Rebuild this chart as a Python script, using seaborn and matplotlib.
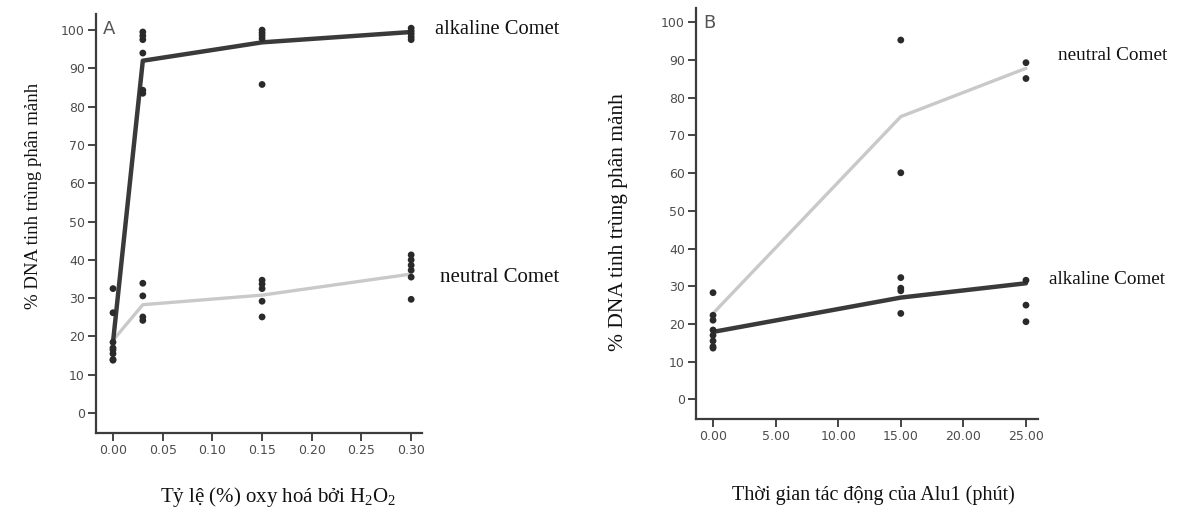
import numpy as np
import pandas as pd
import matplotlib
matplotlib.use("Agg")
import matplotlib.pyplot as plt
import seaborn as sns
from matplotlib.ticker import FormatStrFormatter

# ---------------- data ----------------
# Panel A : % oxidation by H2O2
xA_levels = [0.0, 0.03, 0.15, 0.30]
alkA_mean = [18.5, 92.0, 96.8, 99.5]
neuA_mean = [19.0, 28.3, 30.8, 36.3]

alkA_pts_x = [0, 0, 0, 0,
              0.03, 0.03, 0.03, 0.03, 0.03, 0.03,
              0.15, 0.15, 0.15, 0.15, 0.15,
              0.30, 0.30, 0.30, 0.30, 0.30]
alkA_pts_y = [18.5, 17.0, 15.5, 14.0,
              99.5, 98.5, 97.5, 94.0, 84.3, 83.5,
              100.0, 99.3, 98.6, 97.8, 85.8,
              100.5, 99.7, 99.0, 98.2, 97.5]
neuA_pts_x = [0, 0, 0, 0,
              0.03, 0.03, 0.03, 0.03,
              0.15, 0.15, 0.15, 0.15, 0.15,
              0.30, 0.30, 0.30, 0.30, 0.30, 0.30]
neuA_pts_y = [32.5, 26.2, 16.5, 13.8,
              33.9, 30.6, 25.1, 24.2,
              34.7, 33.7, 32.5, 29.2, 25.1,
              41.3, 40.0, 38.6, 37.3, 35.5, 29.7]

# Panel B : Alu1 time (minutes)
xB_levels = [0.0, 15.0, 25.0]
alkB_mean = [17.9, 27.0, 30.8]
neuB_mean = [22.8, 75.0, 87.8]

alkB_pts_x = [0, 0, 0, 0, 0, 15, 15, 15, 15, 25, 25, 25]
alkB_pts_y = [18.4, 17.0, 15.5, 14.0, 13.6, 32.3, 29.5, 28.8, 22.8, 31.6, 25.0, 20.6]
neuB_pts_x = [0, 0, 0, 15, 15, 25, 25]
neuB_pts_y = [28.3, 22.3, 21.0, 95.3, 60.1, 89.3, 85.1]

yticks = list(range(0, 101, 10))
xA_ticks = [0.0, 0.05, 0.10, 0.15, 0.20, 0.25, 0.30]
xB_ticks = [0.0, 5.0, 10.0, 15.0, 20.0, 25.0]

ylabel_txt = "% DNA tinh trùng phân mảnh"
xA_label = "Tỷ lệ (%) oxy hoá bởi H$_2$O$_2$"
xB_label = "Thời gian tác động của Alu1 (phút)"

# ---------------- style ----------------
sns.set_style("ticks")
plt.rcParams['font.family'] = ['DejaVu Sans']
plt.rcParams['mathtext.fontset'] = 'custom'
plt.rcParams['mathtext.rm'] = 'Liberation Serif'
plt.rcParams['mathtext.it'] = 'Liberation Serif'

W, H = 1178, 512
fig = plt.figure(figsize=(W / 100, H / 100), dpi=100)

def px_axes(left, right, top, bottom):
    return fig.add_axes([left / W, 1 - bottom / H, (right - left) / W, (bottom - top) / H])

axA = px_axes(96, 422, 14, 433)
axB = px_axes(696, 1038, 8, 419)

DARK = "#3a3a3a"
LIGHT = "#c9c9c9"
DOT = "#2a2a2a"
TICKC = "#4d4d4d"
SERIF = ["Liberation Serif", "DejaVu Serif"]

def draw(ax, xl, alk_m, neu_m, ax_x, ax_y, nx, ny):
    dl = pd.DataFrame({"x": xl, "alk": alk_m, "neu": neu_m})
    sns.lineplot(data=dl, x="x", y="neu", ax=ax, color=LIGHT, lw=2.4, zorder=2)
    sns.lineplot(data=dl, x="x", y="alk", ax=ax, color=DARK, lw=3.2, zorder=3)
    dp = pd.DataFrame({"x": list(ax_x) + list(nx), "y": list(ax_y) + list(ny)})
    sns.scatterplot(data=dp, x="x", y="y", ax=ax, color=DOT, s=24, edgecolor="none", zorder=4)

draw(axA, xA_levels, alkA_mean, neuA_mean, alkA_pts_x, alkA_pts_y, neuA_pts_x, neuA_pts_y)
draw(axB, xB_levels, alkB_mean, neuB_mean, alkB_pts_x, alkB_pts_y, neuB_pts_x, neuB_pts_y)

axA.set_xlim(-0.0171, 0.3109)
axA.set_ylim(-5.2, 104.2)
axB.set_xlim(-1.36, 25.96)
axB.set_ylim(-5.2, 103.8)

for ax, xt in ((axA, xA_ticks), (axB, xB_ticks)):
    sns.despine(ax=ax)
    ax.set_yticks(yticks)
    ax.set_xticks(xt)
    ax.xaxis.set_major_formatter(FormatStrFormatter("%.2f"))
    ax.tick_params(axis="both", colors="#444444", labelcolor=TICKC, labelsize=9,
                   length=6, width=1.4, pad=2)
    for s in ("left", "bottom"):
        ax.spines[s].set_color("#3c3c3c")
        ax.spines[s].set_linewidth(1.6)
    ax.set_xlabel("")
    ax.set_ylabel("")
    ax.grid(False)

axA.text(0.02, 0.985, "A", transform=axA.transAxes, ha="left", va="top",
         fontsize=13, color="#555555")
axB.text(0.02, 0.985, "B", transform=axB.transAxes, ha="left", va="top",
         fontsize=13, color="#555555")

def ftext(x, y, s, **kw):
    fig.text(x / W, 1 - y / H, s, family=SERIF, color="#111111", **kw)

# series labels
ftext(435, 30, "alkaline Comet", fontsize=14.8, ha="left", va="center")
ftext(440, 277, "neutral Comet", fontsize=15, ha="left", va="center")
ftext(1058, 55, "neutral Comet", fontsize=13.9, ha="left", va="center")
ftext(1049, 280, "alkaline Comet", fontsize=13.8, ha="left", va="center")

# axis labels
ftext(278, 497, xA_label, fontsize=15, ha="center", va="center")
ftext(873, 495, xB_label, fontsize=14.5, ha="center", va="center")
ftext(34, 196, ylabel_txt, fontsize=13.5, ha="center", va="center", rotation=90)
ftext(619, 222, ylabel_txt, fontsize=15.5, ha="center", va="center", rotation=90)

fig.savefig("out.png", dpi=100)
